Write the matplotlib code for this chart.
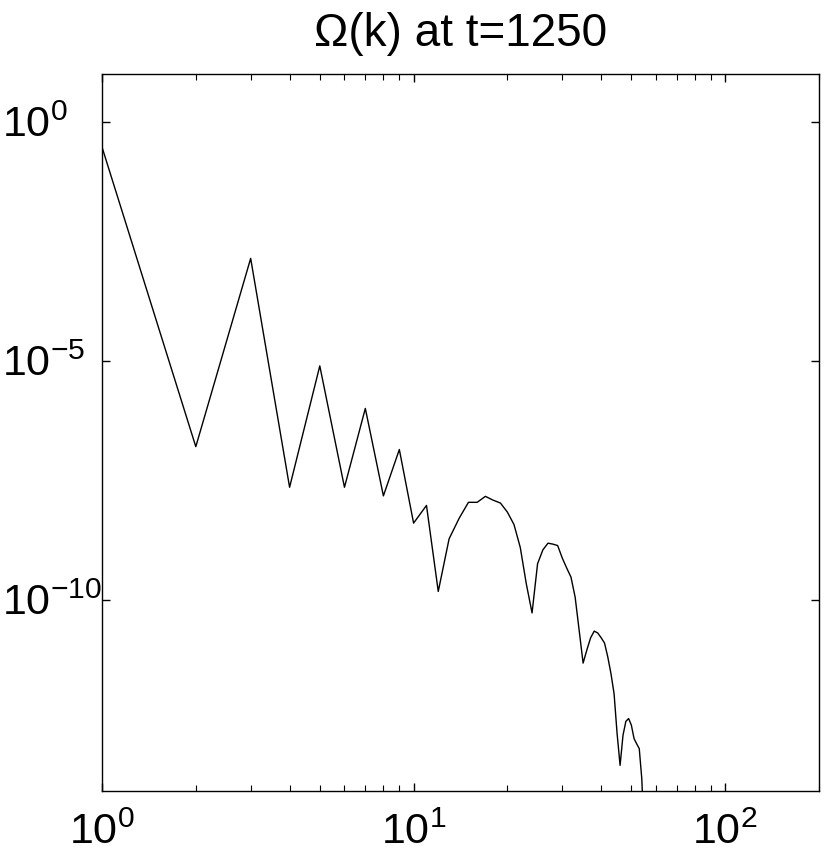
import numpy as np
import matplotlib.pyplot as plt

plt.rcParams['font.family'] = ['Liberation Sans', 'DejaVu Sans']
plt.rcParams['mathtext.fontset'] = 'custom'
plt.rcParams['mathtext.rm'] = 'Liberation Sans'
plt.rcParams['mathtext.it'] = 'Liberation Sans:italic'
plt.rcParams['mathtext.default'] = 'regular'

# wavenumber k and log10 of Omega(k)
k = np.arange(1, 56)
log_omega = [-0.53, -6.80, -2.86, -7.65, -5.11, -7.65, -6.00, -7.83, -6.86, -8.40,
             -8.03, -9.83, -8.73, -8.30, -7.965, -7.965, -7.84, -7.92, -7.98, -8.17,
             -8.43, -8.91, -9.67, -10.28, -9.25, -8.96, -8.82, -8.84, -8.87, -9.13,
             -9.34, -9.53, -9.95, -10.65, -11.33, -11.05, -10.80, -10.66, -10.70, -10.80,
             -10.91, -11.20, -11.55, -11.97, -12.81, -13.47, -12.84, -12.55, -12.49, -12.63,
             -12.91, -13.02, -13.12, -13.75, -15.0]
omega = 10.0 ** np.array(log_omega)

fig = plt.figure(figsize=(8.3, 8.63), dpi=100)
ax = fig.add_axes([0.1229, 0.0838, 0.8638, 0.8305])

ax.loglog(k, omega, 'k', lw=1.0)
ax.set_xlim(1, 200)
ax.set_ylim(1e-14, 10)

ax.set_yticks([1e-10, 1e-5, 1e0])
ax.yaxis.set_minor_locator(plt.NullLocator())
ax.tick_params(which='both', direction='in', top=True, right=True, labelsize=31)
ax.tick_params(which='major', length=6, width=1)
ax.tick_params(which='minor', length=4, width=0.8)
ax.tick_params(axis='y', pad=72)
ax.tick_params(axis='x', pad=16)
for lab in ax.get_yticklabels():
    lab.set_horizontalalignment('left')
for s in ax.spines.values():
    s.set_linewidth(1.0)

ax.set_title('Ω(k) at t=1250', fontsize=33, pad=20)

fig.savefig('out.png', dpi=100)
